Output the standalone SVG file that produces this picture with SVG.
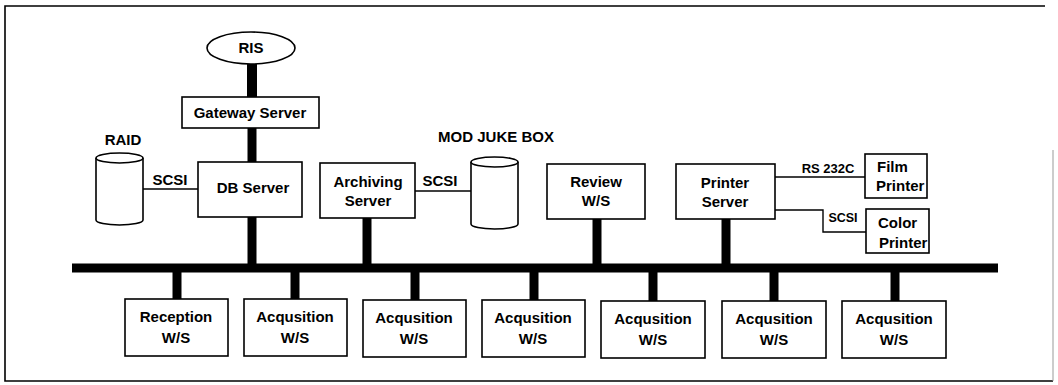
<svg xmlns="http://www.w3.org/2000/svg" width="1058" height="385" viewBox="0 0 1058 385">
<style>
.box{fill:#fff;stroke:#000;stroke-width:1.6}
.t{font-family:"Liberation Sans",Arial,sans-serif;font-weight:bold;font-size:15px;fill:#000;text-anchor:middle}
.l{text-anchor:start}
.s{font-size:13px}
.x{font-size:12.5px}
.thick{stroke:#000;stroke-width:9;fill:none}
.thin{stroke:#000;stroke-width:1.4;fill:none}
</style>
<rect width="1058" height="385" fill="#fff"/>
<g id="frame">
<path d="M1045 6 H5 V381 H1053" fill="none" stroke="#000" stroke-width="1.6"/>
<path d="M1053 150 V381" fill="none" stroke="#999" stroke-width="1"/>
</g>
<g id="connectors">
<line class="thick" x1="72" y1="268" x2="998" y2="268"/>
<line class="thick" x1="252" y1="64" x2="252" y2="97" style="stroke-width:10"/>
<line class="thick" x1="252" y1="128" x2="252" y2="162"/>
<line class="thick" x1="252" y1="217" x2="252" y2="268"/>
<line class="thick" x1="367" y1="218" x2="367" y2="268"/>
<line class="thick" x1="597" y1="219" x2="597" y2="268"/>
<line class="thick" x1="726" y1="219" x2="726" y2="268"/>
<line class="thick" x1="177" y1="268" x2="177" y2="299"/>
<line class="thick" x1="295" y1="268" x2="295" y2="299"/>
<line class="thick" x1="415" y1="268" x2="415" y2="300"/>
<line class="thick" x1="534" y1="268" x2="534" y2="300"/>
<line class="thick" x1="653" y1="268" x2="653" y2="301"/>
<line class="thick" x1="774" y1="268" x2="774" y2="301"/>
<line class="thick" x1="895" y1="268" x2="895" y2="301"/>
<line class="thin" x1="143" y1="189" x2="198" y2="189"/>
<line class="thin" x1="415" y1="191" x2="471" y2="191"/>
<line class="thin" x1="775" y1="177" x2="865" y2="177"/>
<polyline class="thin" points="775,210 823,210 823,232 866,232"/>
<text class="t" x="170" y="185">SCSI</text>
<text class="t" x="440" y="186">SCSI</text>
<text class="t s" x="828" y="173">RS 232C</text>
<text class="t x" x="843" y="222">SCSI</text>
</g>
<g id="ris">
<ellipse cx="251" cy="48" rx="44" ry="16" fill="#fff" stroke="#000" stroke-width="1.6"/>
<text class="t" x="251" y="53">RIS</text>
</g>
<g id="gateway">
<rect class="box" x="182" y="97" width="137" height="31"/>
<text class="t" x="250" y="118">Gateway Server</text>
</g>
<g id="raid">
<path d="M96 158 V220 A23.5 5 0 0 0 143 220 V158" class="box"/>
<ellipse cx="119.5" cy="158" rx="23.5" ry="5" class="box"/>
<text class="t" x="123" y="145">RAID</text>
</g>
<g id="db">
<rect class="box" x="198" y="162" width="104" height="55"/>
<text class="t" x="253" y="193">DB Server</text>
</g>
<g id="archiving">
<rect class="box" x="320" y="163" width="95" height="55"/>
<text class="t" x="368" y="187">Archiving</text>
<text class="t" x="368" y="206">Server</text>
</g>
<g id="jukebox">
<path d="M471 162 V224 A23.5 5 0 0 0 518 224 V162" class="box"/>
<ellipse cx="494.5" cy="162" rx="23.5" ry="5" class="box"/>
<text class="t" x="496" y="142">MOD JUKE BOX</text>
</g>
<g id="review">
<rect class="box" x="547" y="164" width="98" height="55"/>
<text class="t" x="596" y="187">Review</text>
<text class="t" x="596" y="206">W/S</text>
</g>
<g id="printer">
<rect class="box" x="676" y="164" width="99" height="55"/>
<text class="t" x="725" y="188">Printer</text>
<text class="t" x="725" y="207">Server</text>
</g>
<g id="film">
<rect class="box" x="865" y="154" width="62" height="44"/>
<text class="t l" x="877" y="172">Film</text>
<text class="t l" x="876" y="191">Printer</text>
</g>
<g id="color">
<rect class="box" x="866" y="209" width="63" height="44"/>
<text class="t l" x="878" y="228">Color</text>
<text class="t l" x="879" y="248">Printer</text>
</g>
<g id="reception">
<rect class="box" x="125" y="299" width="103" height="57"/>
<text class="t" x="176" y="322">Reception</text>
<text class="t" x="176" y="343">W/S</text>
</g>
<g id="acq1">
<rect class="box" x="244" y="299" width="103" height="57"/>
<text class="t" x="295" y="322">Acqusition</text>
<text class="t" x="295" y="343">W/S</text>
</g>
<g id="acq2">
<rect class="box" x="363" y="300" width="103" height="57"/>
<text class="t" x="414" y="323">Acqusition</text>
<text class="t" x="414" y="344">W/S</text>
</g>
<g id="acq3">
<rect class="box" x="482" y="300" width="103" height="57"/>
<text class="t" x="533" y="323">Acqusition</text>
<text class="t" x="533" y="344">W/S</text>
</g>
<g id="acq4">
<rect class="box" x="601" y="301" width="104" height="57"/>
<text class="t" x="653" y="324">Acqusition</text>
<text class="t" x="653" y="345">W/S</text>
</g>
<g id="acq5">
<rect class="box" x="722" y="301" width="104" height="57"/>
<text class="t" x="774" y="324">Acqusition</text>
<text class="t" x="774" y="345">W/S</text>
</g>
<g id="acq6">
<rect class="box" x="842" y="301" width="104" height="57"/>
<text class="t" x="894" y="324">Acqusition</text>
<text class="t" x="894" y="345">W/S</text>
</g>
</svg>
